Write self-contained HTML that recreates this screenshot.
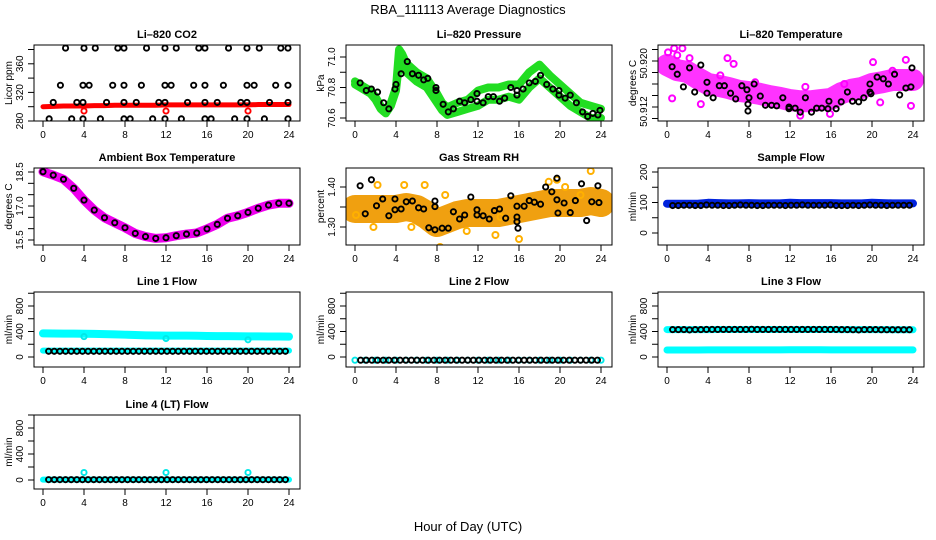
<!DOCTYPE html>
<html><head><meta charset="utf-8"><style>
html,body{margin:0;padding:0;background:#fff}
svg{display:block;font-family:"Liberation Sans",sans-serif}
</style></head><body>
<svg id="chart" width="936" height="540" viewBox="0 0 936 540">
<text x="468" y="14" text-anchor="middle" font-size="13">RBA_111113  Average Diagnostics</text>
<text x="468" y="531" text-anchor="middle" font-size="13">Hour of Day (UTC)</text>
</svg>
<script>
// ---------- data ----------
const HOURS = [0,1,2,3,4,5,6,7,8,9,10,11,12,13,14,15,16,17,18,19,20,21,22,23,24];
const BLACK_HOURS = [0.55,1.1,1.65,2.2,2.75,3.3,3.85,4.4,4.95,5.5,6.05,6.6,7.15,7.7,8.25,8.8,9.35,9.9,10.45,11,11.55,12.1,12.65,13.2,13.75,14.3,14.85,15.4,15.95,16.5,17.05,17.6,18.15,18.7,19.25,19.8,20.35,20.9,21.45,22,22.55,23.1,23.65];
const X_TICKS = [0,4,8,12,16,20,24];

// CO2
const co2Red = [300,300.5,301,301,301,301.5,301.5,302,302,302,302,302,302.5,302.5,302.5,302.5,302.5,302.5,302.5,302.5,302.5,303,303,303,303];
const co2RedOutH = [4,12,20];
const co2RedOutV = [294,294,294];
const co2BlackH = [2.2,4.0,5.1,7.3,7.9,10.1,11.9,13.0,15.2,15.8,18.1,19.9,21.1,23.2,23.9, 1.7,3.9,4.5,6.8,7.9,9.6,11.9,12.5,14.7,15.8,17.6,19.9,20.6,22.7,23.9, 1.0,3.3,3.9,6.2,7.9,9.1,11.3,11.9,14.1,15.8,17.0,19.3,19.9,22.1,23.9, 0.6,2.8,3.9,5.6,7.9,8.5,10.7,11.9,13.5,15.8,16.4,18.7,19.9,21.6,23.9];
const co2BlackV = [382,382,382,382,382,382,382,382,382,382,382,382,382,382,382, 330,330,330,330,330,330,330,330,330,330,330,330,330,330,330, 306,306,306,306,306,306,306,306,306,306,306,306,306,306,306, 283,283,283,283,283,283,283,283,283,283,283,283,283,283,283];

// Pressure
const presH = [0,0.5,1,1.5,2,2.5,3,3.5,4,4.3,4.6,5,6,7,8,8.5,9,10,11,12,13,14,15,16,17,18,19,20,21,22,23,24];
const presHi = [70.84,70.82,70.80,70.78,70.74,70.68,70.65,70.70,70.80,71.05,71.02,70.96,70.90,70.86,70.76,70.70,70.67,70.70,70.72,70.78,70.80,70.80,70.82,70.82,70.90,70.95,70.88,70.82,70.76,70.70,70.68,70.66];
const presLo = [70.82,70.80,70.78,70.76,70.72,70.66,70.63,70.68,70.78,70.96,70.94,70.90,70.84,70.80,70.70,70.65,70.62,70.64,70.66,70.68,70.72,70.72,70.74,70.72,70.80,70.86,70.80,70.74,70.68,70.64,70.60,70.60];
const presBlackH = [0.5,1.1,1.6,2.2,2.8,3.3,3.9,4.0,4.5,5.1,5.6,6.2,6.7,7.1,7.9,7.9,8.6,9.1,9.6,10.2,10.7,11.3,11.9,11.9,12.5,13.0,13.5,14.1,14.6,15.2,15.8,15.8,16.4,17.0,17.6,18.1,18.7,19.3,19.9,19.9,20.5,21.0,21.6,22.2,22.7,23.2,23.7,23.9];
const presBlackV = [70.83,70.78,70.79,70.77,70.70,70.66,70.79,70.82,70.89,70.97,70.89,70.88,70.85,70.86,70.80,70.78,70.69,70.64,70.66,70.71,70.70,70.72,70.76,70.71,70.70,70.74,70.74,70.71,70.73,70.80,70.75,70.78,70.79,70.83,70.84,70.88,70.82,70.79,70.78,70.75,70.73,70.75,70.70,70.64,70.61,70.63,70.62,70.65];

// Li-820 temperature
const ltMag = [50.9193,50.9184,50.9181,50.9170,50.9160,50.9157,50.9153,50.9148,50.9146,50.9143,50.9139,50.9136,50.9132,50.9130,50.9130,50.9132,50.9134,50.9144,50.9150,50.9153,50.9160,50.9163,50.9167,50.9167,50.9167];
const ltMagOutH = [0.1,0.7,1.5,0.5,3.3,5.2,6.5,5.9,2.2,23.3,20.1,22.0,13.5,8.6,13,15.9,20.8,23.8,1.0,17.3];
const ltMagOutV = [50.9215,50.9222,50.9222,50.9135,50.9125,50.9175,50.9195,50.9205,50.9205,50.9202,50.9198,50.9183,50.9155,50.9163,50.9105,50.9108,50.9128,50.9122,50.9210,50.9160];
const ltBlackH = [0.5,1.0,1.6,2.2,2.7,3.3,3.9,3.9,4.5,5.1,5.6,6.2,6.7,7.3,7.8,7.9,7.9,8.0,8.5,9.1,9.6,10.2,10.7,11.3,11.9,11.9,12.5,13.0,13.5,14.1,14.6,15.1,15.7,15.8,16.5,17.0,17.6,18.1,18.7,19.2,19.8,19.9,19.8,20.5,21.1,21.6,22.2,22.7,23.3,23.8,23.9];
const ltBlackV = [50.9190,50.9177,50.9155,50.9188,50.9146,50.9193,50.9163,50.9144,50.9136,50.9157,50.9157,50.9144,50.9134,50.9157,50.9150,50.9125,50.9113,50.9136,50.9160,50.9139,50.9123,50.9123,50.9122,50.9136,50.9120,50.9117,50.9118,50.9111,50.9136,50.9111,50.9118,50.9118,50.9117,50.9130,50.9117,50.9129,50.9146,50.9130,50.9129,50.9136,50.9146,50.9143,50.9160,50.9172,50.9169,50.9160,50.9177,50.9141,50.9153,50.9155,50.9188];

// Ambient box temperature
const ambient = [18.51,18.36,18.18,17.78,17.26,16.82,16.48,16.26,16.04,15.79,15.65,15.57,15.60,15.69,15.76,15.81,15.99,16.19,16.46,16.57,16.72,16.90,17.04,17.12,17.12];

// Gas stream RH
const rhBand = [1.345,1.345,1.345,1.345,1.345,1.35,1.345,1.33,1.31,1.32,1.33,1.335,1.335,1.335,1.335,1.34,1.345,1.35,1.355,1.36,1.36,1.36,1.36,1.365,1.36];
const rhOutH = [2.2,4.8,6.8,8.3,8.8,16,18.9,19.7,20.5,22,23,23.4,1.8,5.5,13.7,14.2,0.1,10.9];
const rhOutV = [1.405,1.405,1.405,1.25,1.38,1.27,1.413,1.418,1.40,1.38,1.44,1.458,1.30,1.30,1.28,1.325,1.33,1.29];
const rhBlackH = [0.5,1.0,1.6,2.1,2.7,3.3,3.9,3.9,4.5,5.0,5.6,6.2,6.7,7.2,7.8,7.8,7.8,8.5,9.1,9.6,10.2,10.7,11.3,11.9,11.9,12.5,13.1,13.6,14.1,14.7,15.2,15.8,15.8,15.9,15.8,16.5,17.0,17.5,18.1,18.6,19.2,19.7,19.8,19.7,20.4,21.0,21.5,22.1,22.6,23.1,23.7,23.8];
const rhBlackV = [1.403,1.333,1.418,1.353,1.370,1.328,1.370,1.343,1.345,1.363,1.365,1.348,1.345,1.298,1.293,1.351,1.365,1.297,1.297,1.338,1.320,1.330,1.375,1.330,1.343,1.328,1.320,1.341,1.345,1.322,1.378,1.325,1.313,1.297,1.352,1.352,1.366,1.362,1.357,1.400,1.388,1.368,1.335,1.422,1.360,1.336,1.366,1.408,1.316,1.363,1.403,1.361];

// Sample flow
const sampleBlue = [96,96,96,96,99,98,97,97,98,97,97,97,99,98,98,98,98,97,97,97,99,98,97,97,97];
const sampleBlack = [90,90,91,91,90,90,92,91,91,90,90,91,92,91,91,90,90,91,91,91,90,91,91,92,91,91,91,91,92,90,90,90,91,90,91,92,91,91,90,91,91,91,91];

// Line flows
const line1CyanHi = [370,368,366,366,365,362,358,355,350,345,340,338,336,335,335,333,330,328,327,325,324,323,322,321,320];
const line1CyanLo = [100,100,100,100,100,100,100,100,100,100,100,100,100,100,100,100,100,100,100,100,100,100,100,100,100];
const line1CyanOutH = [4,12,20];
const line1CyanOutV = [320,290,270];
const line1Black = [90,90,90,90,90,90,90,90,90,90,90,90,90,90,90,90,90,90,90,90,90,90,90,90,90,90,90,90,90,90,90,90,90,90,90,90,90,90,90,90,90,90,90];
const line2Cyan = [-50,-50,-50,-50,-50,-50,-50,-50,-50,-50,-50,-50,-50,-50,-50,-50,-50,-50,-50,-50,-50,-50,-50,-50,-50];
const line2Black = [-50,-50,-50,-50,-50,-50,-50,-50,-50,-50,-50,-50,-50,-50,-50,-50,-50,-50,-50,-50,-50,-50,-50,-50,-50,-50,-50,-50,-50,-50,-50,-50,-50,-50,-50,-50,-50,-50,-50,-50,-50,-50,-50];
const line3CyanHi = [430,430,430,430,430,432,432,432,432,432,432,432,432,432,432,432,432,430,430,430,430,430,428,428,428];
const line3CyanLo = [110,110,110,110,112,112,112,112,112,112,112,112,114,114,114,114,112,112,112,112,112,112,112,112,112];
const line3Black = [430,430,430,425,430,430,432,432,432,432,432,432,432,432,435,432,432,432,432,432,432,432,432,432,432,432,432,432,432,432,430,430,428,425,430,430,430,428,428,428,428,428,428];
const line4Cyan = [5,5,5,5,5,5,5,5,5,5,5,5,5,5,5,5,5,5,5,5,5,5,5,5,5];
const line4CyanOutH = [4,12,20];
const line4CyanOutV = [115,115,115];
const line4Black = [5,5,5,5,5,5,5,5,5,5,5,5,5,5,5,5,5,5,5,5,5,5,5,5,5,5,5,5,5,5,5,5,5,5,5,5,5,5,5,5,5,5,5];

// ---------- drawing ----------
const NS = "http://www.w3.org/2000/svg";
const svg = document.getElementById('chart');
const ROW_TOP = [45,168,292,415];
const ROW_BOT = [121,245,367,489];

function mk(parent, tag, attrs, name){
  const el = document.createElementNS(NS, tag);
  for (const k in attrs) el.setAttribute(k, attrs[k]);
  
  
  parent.appendChild(el);
  return el;
}

function panel(col,row,title,ylab,v0,p0,v1,p1,ticks,labels,name){
  const left = 34+312*col, right = 300+312*col, top = ROW_TOP[row], bot = ROW_BOT[row];
  const g = mk(svg,'g',{},name);
  const xs = h => 43+312*col+h*10.25;
  const ys = v => p0+(v-v0)*(p1-p0)/(v1-v0);
  const t = mk(g,'text',{x:(left+right)/2,y:top-7,'text-anchor':'middle','font-size':11,'font-weight':'bold'},'panel-title');
  t.textContent = title;
  X_TICKS.forEach(h=>{
    mk(g,'line',{x1:xs(h),x2:xs(h),y1:bot,y2:bot+6,stroke:'#000'},'x-tick');
    const l = mk(g,'text',{x:xs(h),y:bot+17,'text-anchor':'middle','font-size':10},'x-tick-label');
    l.textContent = h;
  });
  ticks.forEach(v=>{
    mk(g,'line',{x1:left-6,x2:left,y1:ys(v),y2:ys(v),stroke:'#000'},'y-tick');
  });
  labels.forEach(lb=>{
    const y = ys(lb[0]);
    const l = mk(g,'text',{x:0,y:0,transform:`translate(${left-11},${y}) rotate(-90)`,'text-anchor':'middle','font-size':10},'y-tick-label');
    l.textContent = lb[1];
  });
  const yl = mk(g,'text',{x:0,y:0,transform:`translate(${left-22},${(top+bot)/2}) rotate(-90)`,'text-anchor':'middle','font-size':10},'y-axis-title');
  yl.textContent = ylab;
  const clip = 'clip'+col+row;
  const cp = mk(g,'clipPath',{id:clip},'clip-region');
  mk(cp,'rect',{x:left,y:top,width:right-left,height:bot-top},'clip-rect');
  const plot = mk(g,'g',{'clip-path':`url(#${clip})`},'plot-area');
  const api = {
    band(hs,vs,color,w,nm){
      const pts = hs.map((h,i)=>xs(h)+','+ys(vs[i])).join(' ');
      mk(plot,'polyline',{points:pts,fill:'none',stroke:color,'stroke-width':w,'stroke-linejoin':'round','stroke-linecap':'round'},nm);
    },
    pts(hs,vs,color,nm,r,sw){
      hs.forEach((h,i)=>{
        mk(plot,'circle',{cx:xs(h),cy:ys(vs[i]),r:r||2.6,fill:'none',stroke:color,'stroke-width':sw||1.9},nm);
      });
    }
  };
  mk(g,'rect',{x:left,y:top,width:right-left,height:bot-top,fill:'none',stroke:'#000'},'panel-box');
  return api;
}

// Row 1
let p = panel(0,0,'Li–820 CO2','Licor ppm',280,121,380,49.5,[280,300,320,340,360,380],[[280,'280'],[320,'320'],[360,'360']],'panel-co2');
p.band(HOURS,co2Red,'#f00',5,'co2-red-series');
p.pts(co2RedOutH,co2RedOutV,'#f00','co2-red-point');
p.pts(co2BlackH,co2BlackV,'#000','co2-black-point');

p = panel(1,0,'Li–820 Pressure','kPa',70.6,118,71.0,57,[70.6,70.7,70.8,70.9,71.0],[[70.6,'70.6'],[70.8,'70.8'],[71.0,'71.0']],'panel-pressure');
p.band(presH,presHi,'#22dd22',8,'pressure-green-upper');
p.band(presH,presLo,'#22dd22',8,'pressure-green-lower');
p.pts(presBlackH,presBlackV,'#000','pressure-black-point');

p = panel(2,0,'Li–820 Temperature','degrees C',50.912,107,50.920,61,[50.910,50.912,50.914,50.916,50.918,50.920,50.922],[[50.9112,'50.912'],[50.9196,'50.920']],'panel-li-temp');
p.band(HOURS,ltMag,'#ff33ff',22,'li-temp-magenta-band');
p.pts(ltMagOutH,ltMagOutV,'#ff00ff','li-temp-magenta-point',3,2);
p.pts(ltBlackH,ltBlackV,'#000','li-temp-black-point');

// Row 2
p = panel(0,1,'Ambient Box Temperature','degrees C',15.5,240,18.5,172,[15.5,16,16.5,17,17.5,18,18.5],[[15.5,'15.5'],[17.0,'17.0'],[18.5,'18.5']],'panel-ambient');
p.band(HOURS,ambient,'#ee00ee',9,'ambient-magenta-line');
p.pts(HOURS,ambient,'#000','ambient-black-point');

p = panel(1,1,'Gas Stream RH','percent',1.30,227,1.40,187,[1.30,1.35,1.40],[[1.30,'1.30'],[1.40,'1.40']],'panel-rh');
p.band(HOURS,rhBand,'#f0a010',28,'rh-orange-band');
p.pts(rhOutH,rhOutV,'#ffb000','rh-orange-point',3,2);
p.pts(rhBlackH,rhBlackV,'#000','rh-black-point');

p = panel(2,1,'Sample Flow','ml/min',0,233,200,172,[0,50,100,150,200],[[0,'0'],[100,'100'],[200,'200']],'panel-sample-flow');
p.band(HOURS,sampleBlue,'#0022dd',8,'sample-blue-band');
p.pts(BLACK_HOURS,sampleBlack,'#000','sample-black-point');

// Row 3
p = panel(0,2,'Line 1 Flow','ml/min',0,357,800,306,[0,200,400,600,800,1000],[[0,'0'],[400,'400'],[800,'800']],'panel-line1');
p.band(HOURS,line1CyanHi,'#00ffff',8,'line1-cyan-upper');
p.band(HOURS,line1CyanLo,'#00ffff',6,'line1-cyan-lower');
p.pts(line1CyanOutH,line1CyanOutV,'#00e8e8','line1-cyan-point');
p.pts(BLACK_HOURS,line1Black,'#000','line1-black-point');

p = panel(1,2,'Line 2 Flow','ml/min',0,357,800,306,[0,200,400,600,800,1000],[[0,'0'],[400,'400'],[800,'800']],'panel-line2');
p.pts(HOURS,line2Cyan,'#00e8e8','line2-cyan-point');
p.pts(BLACK_HOURS,line2Black,'#000','line2-black-point');

p = panel(2,2,'Line 3 Flow','ml/min',0,357,800,306,[0,200,400,600,800,1000],[[0,'0'],[400,'400'],[800,'800']],'panel-line3');
p.band(HOURS,line3CyanHi,'#00ffff',7,'line3-cyan-upper');
p.band(HOURS,line3CyanLo,'#00ffff',7,'line3-cyan-lower');
p.pts(BLACK_HOURS,line3Black,'#000','line3-black-point');

// Row 4
p = panel(0,3,'Line 4 (LT) Flow','ml/min',0,480,800,428,[0,200,400,600,800,1000],[[0,'0'],[400,'400'],[800,'800']],'panel-line4');
p.band(HOURS,line4Cyan,'#00ffff',6,'line4-cyan-band');
p.pts(line4CyanOutH,line4CyanOutV,'#00e8e8','line4-cyan-point');
p.pts(BLACK_HOURS,line4Black,'#000','line4-black-point');
</script>
</body></html>
